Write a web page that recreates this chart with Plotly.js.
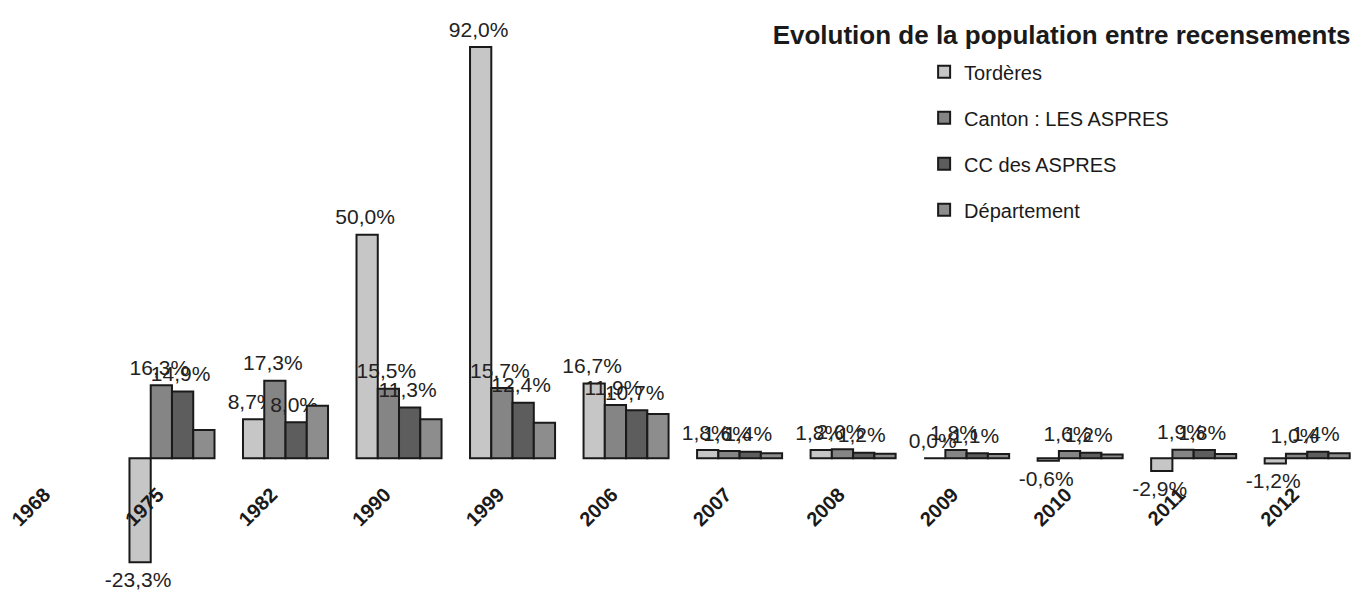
<!DOCTYPE html>
<html>
<head>
<meta charset="utf-8">
<script src="https://cdn.plot.ly/plotly-3.0.1.min.js"></script>
<style>html,body{margin:0;padding:0;background:#fff;}#chart{width:1356px;height:594px;}</style>
</head>
<body>
<div id="chart"></div>
<script>
var years = ["1968","1975","1982","1990","1999","2006","2007","2008","2009","2010","2011","2012"];
var seriesNames = ["Tordères","Canton : LES ASPRES","CC des ASPRES","Département"];
var tordere = [null,-23.3,8.7,50.0,92.0,16.7,1.8,1.8,0.0,-0.6,-2.9,-1.2];
var canton  = [null,16.3,17.3,15.5,15.7,11.9,1.6,2.0,1.8,1.6,1.9,1.0];
var ccAspres= [null,14.9,8.0,11.3,12.4,10.7,1.4,1.2,1.1,1.2,1.8,1.4];
var departement = [null,6.3,11.7,8.7,7.9,9.9,1.1,1.0,0.9,0.8,0.9,1.1];
var colors = ["#c6c6c6","#858585","#5d5d5d","#8d8d8d"];
var showLabels = [true,true,true,false];

function fmt(v){
  if(v===null) return "";
  return v.toFixed(1).replace(".",",") + "%" + (v>=0 ? "<sub>\u00a0</sub>" : "<sup>\u00a0</sup>");
}
var allSeries = [tordere,canton,ccAspres,departement];
var FONT = "Liberation Sans, Arial, Helvetica, sans-serif";
var traces = allSeries.map(function(vals,i){
  return {
    type:"bar", x:years, y:vals, name:seriesNames[i],
    legendgroup:"g"+i,
    marker:{color:colors[i], line:{color:"#1a1a1a", width:2}},
    text: showLabels[i] ? vals.map(fmt) : null,
    textposition: showLabels[i] ? "outside" : "none",
    constraintext:"none",
    cliponaxis:false,
    textfont:{family:FONT, size:21, color:"#222"},
    hoverinfo:"skip"
  };
});

var layout = {
  width:1356, height:594,
  margin:{l:0,r:0,t:0,b:0},
  paper_bgcolor:"#fff", plot_bgcolor:"#fff",
  barmode:"group", bargap:0.251, bargroupgap:0,
  title:{text:"<b>Evolution de la population entre recensements</b>",
    font:{family:FONT,size:26,color:"#1a1a1a"},
    x:0.996, xanchor:"right", xref:"paper", y:0.942, yanchor:"middle"},
  xaxis:{type:"category", range:[-0.515,11.43], anchor:"free", position:0.229,
    showline:false, showgrid:false, zeroline:false, ticks:"",
    tickangle:-45, ticklabelstandoff:20, ticklabelshift:-14,
    tickfont:{family:FONT,size:20,color:"#1a1a1a",weight:"bold"}},
  yaxis:{range:[-30.4,102.5], visible:false, showgrid:false, zeroline:false},
  showlegend:true,
  legend:{x:0.6815, xanchor:"left", y:0.912, yanchor:"top",
    traceorder:"grouped", tracegroupgap:17, bgcolor:"rgba(0,0,0,0)",
    font:{family:FONT,size:20,color:"#1a1a1a"}},
  font:{family:FONT}
};
Plotly.newPlot("chart", traces, layout, {displayModeBar:false, staticPlot:true});
</script>
</body>
</html>
